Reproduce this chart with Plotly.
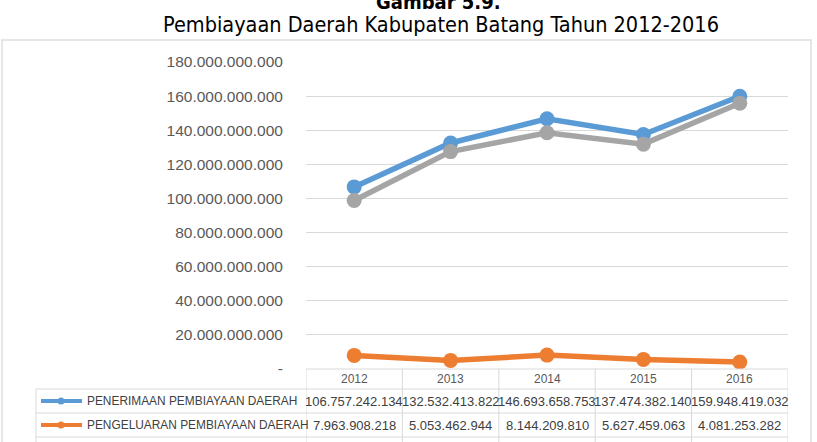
import plotly.graph_objects as go

years = ["2012", "2013", "2014", "2015", "2016"]
penerimaan = [106757242134, 132532413822, 146693658753, 137474382140, 159948419032]
pengeluaran = [7963908218, 5053462944, 8144209810, 5627459063, 4081253282]
netto = [98793333916, 127478950878, 138549448943, 131846923077, 155867165750]

series_names = ["PENERIMAAN PEMBIAYAAN DAERAH", "PENGELUARAN PEMBIAYAAN DAERAH", "PEMBIAYAAN NETTO"]
series_values = [penerimaan, pengeluaran, netto]
series_colors = ["#5b9bd5", "#ed7d31", "#a5a5a5"]

y_tickvals = [0, 20e9, 40e9, 60e9, 80e9, 100e9, 120e9, 140e9, 160e9, 180e9]

def fmt(v):
    return f"{int(v):,}".replace(",", ".")

y_ticktext = ["-" if v == 0 else fmt(v) for v in y_tickvals]

W, H = 817, 442
L, R, T, B = 306, 29, 62, 73
PW, PH = W - L - R, H - T - B

def px(xp):
    return (xp - L) / PW

def py(yp):
    return (H - B - yp) / PH

fig = go.Figure()
for name, vals, col in zip(series_names, series_values, series_colors):
    fig.add_trace(go.Scatter(
        x=years, y=vals, name=name, mode="lines+markers",
        line=dict(color=col, width=5.5),
        marker=dict(color=col, size=15),
        showlegend=False,
    ))

grid = "#d9d9d9"
shapes = []
annotations = []

# outer chart box
shapes.append(dict(type="rect", xref="paper", yref="paper",
                   x0=px(2), x1=px(811), y0=py(470), y1=py(40),
                   line=dict(color="#dedede", width=1.5), layer="below"))

row_bounds = [369, 389, 413, 437, 461]
shapes.append(dict(type="line", xref="x", yref="paper", x0=-0.5, x1=len(years) - 0.5,
                   y0=py(369), y1=py(369), line=dict(color=grid, width=1)))
for yb in row_bounds[1:]:
    shapes.append(dict(type="line", xref="paper", yref="paper", x0=px(36), x1=px(788),
                       y0=py(yb), y1=py(yb), line=dict(color=grid, width=1)))
for i in range(len(years) + 1):
    shapes.append(dict(type="line", xref="x", yref="paper", x0=i - 0.5, x1=i - 0.5,
                       y0=py(369), y1=py(461), line=dict(color=grid, width=1)))
shapes.append(dict(type="line", xref="paper", yref="paper", x0=px(36), x1=px(36),
                   y0=py(389), y1=py(461), line=dict(color=grid, width=1)))

txt_col = "#404040"
for i, yr in enumerate(years):
    annotations.append(dict(x=i, y=py(379), xref="x", yref="paper", text=yr, showarrow=False,
                            font=dict(family="Liberation Sans, Arial", size=12, color="#595959"),
                            xanchor="center", yanchor="middle"))

# only the first two table rows are visible inside the 442 px tall picture
row_centers = [401, 425]
for rc, name, vals, col in zip(row_centers, series_names, series_values, series_colors):
    shapes.append(dict(type="line", xref="paper", yref="paper", x0=px(41), x1=px(82),
                       y0=py(rc), y1=py(rc), line=dict(color=col, width=4)))
    shapes.append(dict(type="circle", xref="paper", yref="paper", x0=px(57.5), x1=px(64.5),
                       y0=py(rc + 3.5), y1=py(rc - 3.5), line=dict(color=col, width=0),
                       fillcolor=col))
    annotations.append(dict(x=px(85), y=py(rc), xref="paper", yref="paper", text=name,
                            showarrow=False, xanchor="left", yanchor="middle",
                            font=dict(family="Liberation Sans, Arial", size=11.9, color=txt_col)))
    for i, v in enumerate(vals):
        annotations.append(dict(x=i, y=py(rc), xref="x", yref="paper", text=fmt(v),
                                showarrow=False, xanchor="center", yanchor="middle",
                                font=dict(family="Liberation Sans, Arial", size=13, color=txt_col)))

annotations.append(dict(x=px(438), y=py(2), xref="paper", yref="paper", text="<b>Gambar 5.9.</b>",
                        showarrow=False, xanchor="center", yanchor="middle",
                        font=dict(family="DejaVu Sans Condensed, DejaVu Sans", size=20, color="#000000")))
annotations.append(dict(x=px(441), y=py(25), xref="paper", yref="paper",
                        text="Pembiayaan Daerah Kabupaten Batang Tahun 2012-2016",
                        showarrow=False, xanchor="center", yanchor="middle",
                        font=dict(family="DejaVu Sans Condensed, DejaVu Sans", size=21.5, color="#000000")))

fig.update_layout(
    width=W, height=H,
    margin=dict(l=L, r=R, t=T, b=B, pad=0),
    paper_bgcolor="white", plot_bgcolor="white",
    shapes=shapes, annotations=annotations,
    xaxis=dict(type="category", range=[-0.5, len(years) - 0.5], showgrid=False,
               showticklabels=False, showline=False, zeroline=False, ticks=""),
    yaxis=dict(range=[0, 180e9], tickvals=y_tickvals, ticktext=y_ticktext,
               showgrid=True, gridcolor=grid, gridwidth=1, zeroline=False, showline=False,
               ticks="outside", ticklen=19, tickcolor="rgba(0,0,0,0)",
               tickfont=dict(family="Liberation Sans, Arial", size=15.5, color="#595959")),
)

fig.write_html("out.html")
